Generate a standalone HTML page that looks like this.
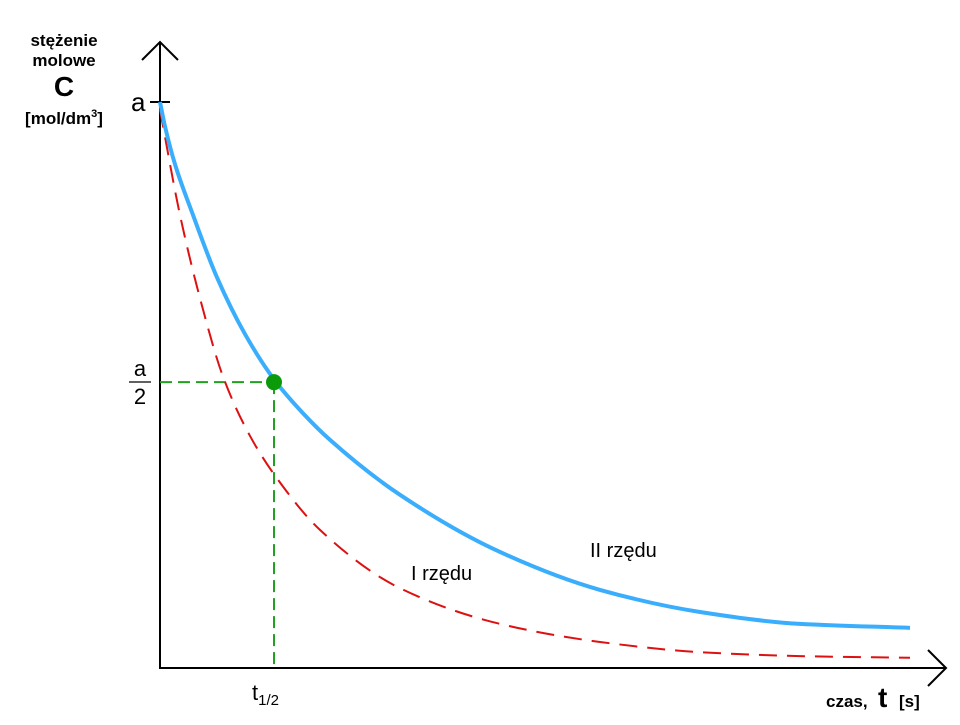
<!DOCTYPE html>
<html><head><meta charset="utf-8"><style>
body{margin:0;background:#fff;}
svg text{font-family:"Liberation Sans",Arial,sans-serif;}
</style></head><body>
<svg id="chart" width="960" height="720" viewBox="0 0 960 720" xmlns="http://www.w3.org/2000/svg">
<g font-weight="bold" text-anchor="middle" fill="#000">
<text x="64" y="46" font-size="17">stężenie</text>
<text x="64" y="66" font-size="17">molowe</text>
<text x="64" y="96" font-size="28">C</text>
<text x="64" y="124" font-size="17">[mol/dm<tspan font-size="11" dy="-7">3</tspan><tspan dy="7">]</tspan></text>
</g>
<g id="axes" stroke="#000" stroke-width="2" fill="none">
<line x1="160" y1="669" x2="160" y2="42"/>
<polyline points="142,60 160,42 178,60"/>
<line x1="159" y1="668" x2="946" y2="668"/>
<polyline points="928,650 946,668 928,686"/>
<line x1="150" y1="102" x2="170" y2="102"/>
</g>
<text x="131" y="111" font-size="26">a</text>
<g font-size="22" text-anchor="middle">
<text x="140" y="376">a</text>
<line x1="129" y1="382" x2="151" y2="382" stroke="#000" stroke-width="1.3"/>
<text x="140" y="404">2</text>
</g>
<text x="252" y="700" font-size="22">t<tspan font-size="15" dy="5">1/2</tspan></text>
<g font-weight="bold">
<text x="826" y="707" font-size="17">czas,</text>
<text x="878" y="707" font-size="28">t</text>
<text x="899" y="707" font-size="17">[s]</text>
</g>
<g id="plot"></g>
<text x="411" y="580" font-size="20">I rzędu</text>
<text x="590" y="557" font-size="20">II rzędu</text>
</svg>
<script>
const blueT=[0,0.07,0.2,0.427,0.76,1.133,1.52,1.9,2.267,3.2,4.533,5.867,7.2,8.533,10];
const blueC=[1,0.955,0.89,0.805,0.69,0.59,0.51,0.451,0.403,0.306,0.205,0.138,0.099,0.078,0.071];
const redT=[0,0.267,0.56,0.84,1.2,1.56,2.133,3.2,4.533,5.867,7.2,8.533,10];
const redC=[0.986,0.80,0.64,0.515,0.41,0.335,0.244,0.141,0.078,0.046,0.028,0.021,0.018];
const halfT=[1.52];
const halfC=[0.505];
const sx=t=>160+t*75;
const sy=c=>668-c*566;
const NS='http://www.w3.org/2000/svg';
const plot=document.getElementById('plot');
function pathD(T,C){
  const n=T.length, d=[], m=new Array(n);
  for(let i=0;i<n-1;i++) d.push((C[i+1]-C[i])/(T[i+1]-T[i]));
  m[0]=d[0]; m[n-1]=d[n-2];
  for(let i=1;i<n-1;i++){
    if(d[i-1]*d[i]<=0){m[i]=0;continue;}
    const h0=T[i]-T[i-1],h1=T[i+1]-T[i];
    const w1=2*h1+h0,w2=h1+2*h0;
    m[i]=(w1+w2)/(w1/d[i-1]+w2/d[i]);
  }
  let s='M'+sx(T[0])+','+sy(C[0]);
  for(let i=0;i<n-1;i++){
    const h=T[i+1]-T[i];
    const c1t=T[i]+h/3,c1c=C[i]+m[i]*h/3;
    const c2t=T[i+1]-h/3,c2c=C[i+1]-m[i+1]*h/3;
    s+=' C'+sx(c1t)+','+sy(c1c)+' '+sx(c2t)+','+sy(c2c)+' '+sx(T[i+1])+','+sy(C[i+1]);
  }
  return s;
}
const g1=document.createElementNS(NS,'path');


g1.setAttribute('d','M'+sx(0)+','+sy(halfC[0])+' H'+sx(halfT[0]));
g1.setAttribute('stroke','#22a022');g1.setAttribute('stroke-width','2');g1.setAttribute('stroke-dasharray','12,6');g1.setAttribute('fill','none');
plot.appendChild(g1);
const g2=document.createElementNS(NS,'path');


g2.setAttribute('d','M'+sx(halfT[0])+','+sy(halfC[0])+' V668');
g2.setAttribute('stroke','#22a022');g2.setAttribute('stroke-width','2');g2.setAttribute('stroke-dasharray','12,6');g2.setAttribute('fill','none');
plot.appendChild(g2);
const red=document.createElementNS(NS,'path');


red.setAttribute('d',pathD(redT,redC));
red.setAttribute('stroke','#dd1111');red.setAttribute('stroke-width','2');red.setAttribute('stroke-dasharray','18,10');red.setAttribute('fill','none');
plot.appendChild(red);
const blue=document.createElementNS(NS,'path');


blue.setAttribute('d',pathD(blueT,blueC));
blue.setAttribute('stroke','#3aaefc');blue.setAttribute('stroke-width','4');blue.setAttribute('fill','none');
plot.appendChild(blue);
const dot=document.createElementNS(NS,'circle');


dot.setAttribute('cx',sx(halfT[0]));dot.setAttribute('cy',sy(halfC[0]));dot.setAttribute('r','8');dot.setAttribute('fill','#0a9a0a');
plot.appendChild(dot);
</script>
</body></html>
